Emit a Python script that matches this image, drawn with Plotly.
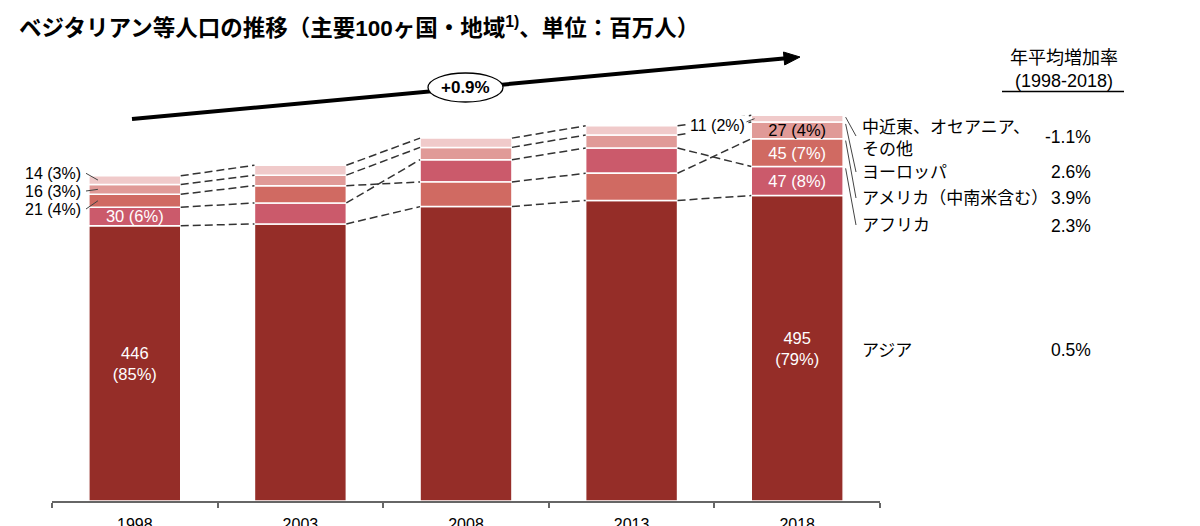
import math
import plotly.graph_objects as go

# ---------------- data ----------------
years = ["1998", "2003", "2008", "2013", "2018"]
asia = [446, 449, 477, 487, 495]
africa = [30, 34, 36, 41, 47]
america = [21, 28, 40, 44, 45]
europe = [16, 17, 20, 21, 27]
others = [14, 16, 15, 15, 11]
region_labels = ["アジア", "アフリカ", "アメリカ（中南米含む）", "ヨーロッパ", "中近東、オセアニア、<br>その他"]
growth_rates = ["0.5%", "2.3%", "3.9%", "2.6%", "-1.1%"]
overall_growth = "+0.9%"
growth_header = ["年平均増加率", "(1998-2018)"]
title_text = "ベジタリアン等人口の推移（主要100ヶ国・地域<sup>1)</sup>、単位：百万人）"

series = [asia, africa, america, europe, others]
colors = ["#952D28", "#CB5A6B", "#D06A62", "#E09A97", "#F0CACA"]
text_colors = ["white", "white", "white", "black", "black"]
FONT = "Liberation Sans, Arial, Noto Sans CJK JP, sans-serif"

n = len(years)
totals = [sum(s[j] for s in series) for j in range(n)]

# stacking: Asia at bottom, other regions sorted by size (largest lowest)
bases = [[0] * n for _ in series]
for j in range(n):
    order = [0] + sorted(range(1, len(series)), key=lambda k: -series[k][j])
    cum = 0
    for k in order:
        bases[k][j] = cum
        cum += series[k][j]
tops = [[bases[k][j] + series[k][j] for j in range(n)] for k in range(len(series))]
mids = [[bases[k][j] + series[k][j] / 2 for j in range(n)] for k in range(len(series))]


def pct(v, t):
    return f"{round(100 * v / t)}%"


inside = {0: {0, 4}, 1: {0, 4}, 2: {4}, 3: {4}, 4: set()}

# ---------------- layout geometry ----------------
ML, MR, MT, MB = 52, 320, 69, 25
FW, FH = 1200, 526
PW, PH = FW - ML - MR, FH - MT - MB
YMAX = 700
BW = 0.555


def xp(px):
    return (px - ML) / PW


def yp(py):
    return (FH - MB - py) / PH


def yv(py):
    return (FH - MB - py) / PH * YMAX


def xv(px):
    return (px - ML) / PW * n - 0.5


fig = go.Figure()
for k in range(len(series)):
    texts = []
    for j in range(n):
        if j in inside[k]:
            sep = "<br>" if k == 0 else " "
            texts.append(f"{series[k][j]}{sep}({pct(series[k][j], totals[j])})")
        else:
            texts.append("")
    fig.add_trace(go.Bar(
        x=years, y=series[k], base=bases[k], width=BW,
        marker=dict(color=colors[k], line=dict(color="white", width=1.5)),
        text=texts, textposition="inside", insidetextanchor="middle",
        textangle=0, constraintext="none",
        textfont=dict(color=text_colors[k], size=16.5, family=FONT),
        hoverinfo="skip", showlegend=False, name=region_labels[k].replace("<br>", ""),
    ))

shapes = []
annotations = []


def note(x, y, text, size, xanchor="center", yanchor="middle", ref="paper", **kw):
    d = dict(x=x, y=y, xref=ref, yref=ref, text=text, showarrow=False,
             xanchor=xanchor, yanchor=yanchor, font=dict(size=size, color="black", family=FONT))
    d.update(kw)
    annotations.append(d)


# dashed connectors between bars
for j in range(n - 1):
    for k in range(len(series)):
        shapes.append(dict(type="line", xref="x", yref="y",
                           x0=j + BW / 2, y0=tops[k][j], x1=j + 1 - BW / 2, y1=tops[k][j + 1],
                           line=dict(color="#333333", width=1.5, dash="8px,4px")))

# totals above bars
for j in range(n):
    note(years[j], totals[j], f"<b>{totals[j]}</b>", 18, yanchor="bottom", ref=None,
         xref="x", yref="y", yshift=2)
for a in annotations:
    a.pop("ref", None)

# left labels for 1998 small segments
left_label_py = {4: 173.3, 3: 191.0, 2: 209.0}
for k, py in left_label_py.items():
    note(xp(83), yp(py), f"{series[k][0]} ({pct(series[k][0], totals[0])})", 16, xanchor="right")
    shapes.append(dict(type="line", xref="x", yref="y", x0=xv(86), y0=yv(py),
                       x1=-BW / 2 + 0.055, y1=mids[k][0],
                       line=dict(color="#444444", width=1)))

# 2018 "others" label outside
note(xp(717), yp(125), f"{series[4][4]} ({pct(series[4][4], totals[4])})", 16, bgcolor="white")
shapes.append(dict(type="line", xref="x", yref="y", x0=xv(746), y0=yv(122),
                   x1=4 - BW / 2 + 0.02, y1=mids[4][4], line=dict(color="#444444", width=1)))

# right-side region labels and growth rates
label_py = {4: 138, 3: 172, 2: 198, 1: 225, 0: 350}
rate_py = {4: 137, 3: 172, 2: 198, 1: 226, 0: 350}
for k in range(len(series)):
    note(xp(860), yp(label_py[k]), region_labels[k], 17, xanchor="left", align="left")
    note(xp(1093), yp(rate_py[k]), growth_rates[k], 17.5, xanchor="right")
    if k > 0:
        shapes.append(dict(type="line", xref="x", yref="y",
                           x0=4 + BW / 2 + 0.015, y0=tops[k][4] - 3,
                           x1=xv(856), y1=yv(label_py[k] - 2 if k == 4 else label_py[k]),
                           line=dict(color="#444444", width=1)))

# growth header
note(xp(1064), yp(58), growth_header[0], 18)
note(xp(1064), yp(81), growth_header[1], 18)
shapes.append(dict(type="line", xref="paper", yref="paper", x0=xp(1002), x1=xp(1124),
                   y0=yp(91.5), y1=yp(91.5), line=dict(color="black", width=1.5)))

# overall growth arrow
ax0, ay0, tipx, tipy = 132, 119, 800, 57
L = math.hypot(tipx - ax0, tipy - ay0)
ux, uy = (tipx - ax0) / L, (tipy - ay0) / L
head_len, head_half = 16, 6.5
bx, by = tipx - head_len * ux, tipy - head_len * uy
shapes.append(dict(type="line", xref="paper", yref="paper", x0=xp(ax0), y0=yp(ay0),
                   x1=xp(bx + 2 * ux), y1=yp(by + 2 * uy), line=dict(color="black", width=4)))
p1 = (bx - head_half * uy, by + head_half * ux)
p2 = (bx + head_half * uy, by - head_half * ux)
shapes.append(dict(type="path", xref="paper", yref="paper",
                   path=f"M {xp(tipx)},{yp(tipy)} L {xp(p1[0])},{yp(p1[1])} L {xp(p2[0])},{yp(p2[1])} Z",
                   fillcolor="black", line=dict(color="black", width=1)))
shapes.append(dict(type="circle", xref="paper", yref="paper", x0=xp(428), x1=xp(503),
                   y0=yp(73), y1=yp(102), fillcolor="white", line=dict(color="black", width=1.3)))
note(xp(465.5), yp(87.5), f"<b>{overall_growth}</b>", 17)

# title
note(xp(17), yp(27), f"<b>{title_text}</b>", 22.5, xanchor="left")

fig.update_layout(
    width=FW, height=FH, margin=dict(l=ML, r=MR, t=MT, b=MB, autoexpand=False),
    paper_bgcolor="white", plot_bgcolor="white", barmode="overlay",
    shapes=shapes, annotations=annotations, font=dict(family=FONT),
    xaxis=dict(type="category", range=[-0.5, n - 0.5], tickson="boundaries", ticks="outside",
               ticklen=5, tickwidth=1.5, tickcolor="#666666", showline=True, linecolor="#666666",
               linewidth=1.5, showgrid=False, zeroline=False, ticklabelstandoff=8,
               tickfont=dict(size=16, color="black", family=FONT), fixedrange=True),
    yaxis=dict(range=[0, YMAX], visible=False, fixedrange=True),
)

fig.write_html("out.html")
